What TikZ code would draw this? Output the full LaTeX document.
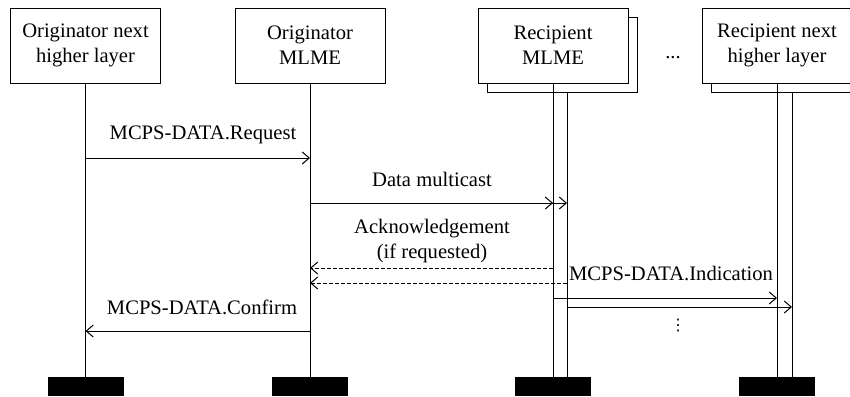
\documentclass[tikz,border=0pt]{standalone}
\usepackage{fontspec}
\setmainfont{Liberation Serif}
\newfontfamily\symfont{DejaVu Sans}
\usetikzlibrary{arrows.meta}

\tikzset{
  box/.style={draw, fill=white, align=center, inner sep=0pt,
              minimum width=75pt, minimum height=37.5pt},
  foot/.style={fill=black, inner sep=0pt, minimum width=38pt, minimum height=9.5pt},
  msg/.style={-{Straight Barb[length=3.5pt,width=6pt]}},
  ack/.style={msg, dash pattern=on 2pt off 1pt}
}

\begin{document}
\begin{tikzpicture}[x=0.5pt,y=-0.5pt,line width=0.5pt,
    font=\fontsize{10.3}{12.5}\selectfont]

            \useasboundingbox (0,0) rectangle (850,396);
            \clip (0,0) rectangle (850,396);

            % shadow boxes of the recipients
            \path   (562,54.5) node (rmlmes) [box] {}
                    (786,54.5) node (rnhls) [box] {};

            \path   (85.5,45.5) node (onhl) [box] {Originator next\\higher layer}
                    (310,45.5) node (omlme) [box] {Originator\\MLME}
                    (553,45.5) node (rmlme) [box] {Recipient\\MLME}
                    (777,45.5) node (rnhl) [box] {Recipient next\\higher layer}
                    (673,58) node (more) {...};

            \path   (85.5,386.5) node (onhlf) [foot] {}
                    (310,386.5) node (omlmef) [foot] {}
                    (553,386.5) node (rmlmef) [foot] {}
                    (777,386.5) node (rnhlf) [foot] {};

            \coordinate (rmlmetop) at (567,92);
            \coordinate (rmlmebot) at (567,377);
            \coordinate (rnhltop) at (792,92);
            \coordinate (rnhlbot) at (792,377);

            % lifelines
            \draw (onhl.south) -- (onhlf.north);
            \draw (omlme.south) -- (omlmef.north);
            \draw (rmlme.south) -- (rmlmef.north);
            \draw (rnhl.south) -- (rnhlf.north);
            \draw (rmlmetop) -- (rmlmebot);
            \draw (rnhltop) -- (rnhlbot);

            % message heights
            \coordinate (treq) at (0,158);
            \coordinate (tdata) at (0,203);
            \coordinate (tack) at (0,268);
            \coordinate (tack2) at (0,283);
            \coordinate (tind) at (0,298);
            \coordinate (tind2) at (0,307);
            \coordinate (tcnf) at (0,331);

            \draw[msg] (onhl |- treq) -- (omlme |- treq);
            \draw[msg] (omlme |- tdata) -- (rmlme |- tdata);
            \draw[msg] (omlme |- tdata) -- (rmlmetop |- tdata);
            \draw[ack] (rmlme |- tack) -- (omlme |- tack);
            \draw[ack] (rmlmetop |- tack2) -- (omlme |- tack2);
            \draw[msg] (rmlme |- tind) -- (rnhl |- tind);
            \draw[msg] (rmlmetop |- tind2) -- (rnhltop |- tind2);
            \draw[msg] (omlme |- tcnf) -- (onhl |- tcnf);

            % labels
            \path   (203,135) node (lreq) {MCPS-DATA.Request}
                    (432,179) node (ldata) {Data multicast}
                    (432,241) node (lack) [align=center] {Acknowledgement\\(if requested)}
                    (671,273) node (lind) {MCPS-DATA.Indication}
                    (202,307) node (lcnf) {MCPS-DATA.Confirm}
                    (678,325.5) node (ldots) [inner sep=0pt,
                        font=\symfont\fontsize{8}{9}\selectfont] {⋮};
\end{tikzpicture}
\end{document}
